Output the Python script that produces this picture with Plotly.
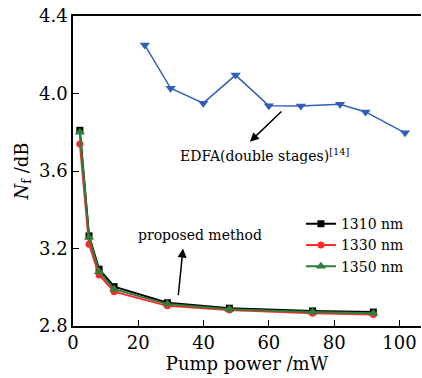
import plotly.graph_objects as go

# Proposed method data
pump_x = [2.1, 4.9, 8.0, 12.6, 28.9, 47.9, 73.4, 92.0]
nf_1310 = [3.81, 3.265, 3.093, 3.003, 2.92, 2.892, 2.878, 2.872]
nf_1330 = [3.74, 3.222, 3.063, 2.977, 2.904, 2.882, 2.866, 2.860]
nf_1350 = [3.80, 3.258, 3.080, 2.990, 2.913, 2.887, 2.872, 2.866]

# EDFA (double stages) [14]
edfa_x = [22.0, 29.9, 39.9, 49.8, 60.0, 69.8, 81.8, 89.6, 101.7]
edfa_nf = [4.25, 4.027, 3.95, 4.095, 3.937, 3.935, 3.945, 3.905, 3.797]

series_names = ["1310 nm", "1330 nm", "1350 nm"]
x_ticks = [0, 20, 40, 60, 80, 100]
y_ticks = [2.8, 3.2, 3.6, 4.0, 4.4]

FONT = "DejaVu Serif"

fig = go.Figure()
fig.add_trace(go.Scatter(x=edfa_x, y=edfa_nf, mode="lines+markers", showlegend=False,
                         line=dict(color="#2f5fb8", width=1.5),
                         marker=dict(symbol="triangle-down", size=9, color="#2f5fb8")))
styles = [("black", "square", 7), ("#ff2a2a", "circle", 7), ("#2e7d3a", "triangle-up", 9)]
for name, ys, (c, sym, sz) in zip(series_names, [nf_1310, nf_1330, nf_1350], styles):
    fig.add_trace(go.Scatter(x=pump_x, y=ys, mode="lines+markers", name=name,
                             line=dict(color=c, width=2),
                             marker=dict(symbol=sym, size=sz, color=c)))

# proposed method arrow (tip near the text)
fig.add_annotation(x=33.7, y=3.20, ax=32.2, ay=2.951, xref="x", yref="y", axref="x", ayref="y",
                   text="", showarrow=True, arrowhead=2, arrowsize=1.2, arrowwidth=1.5, arrowcolor="black")
# EDFA arrow (tip near the text)
fig.add_annotation(x=54.2, y=3.751, ax=64.3, ay=3.915, xref="x", yref="y", axref="x", ayref="y",
                   text="", showarrow=True, arrowhead=2, arrowsize=1.2, arrowwidth=1.5, arrowcolor="black")
fig.add_annotation(x=38.9, y=3.27, xref="x", yref="y", text="proposed method", showarrow=False,
                   font=dict(family=FONT, size=14, color="black"))
fig.add_annotation(x=58.8, y=3.683, xref="x", yref="y", text="EDFA(double stages)<sup>[14]</sup>",
                   showarrow=False, font=dict(family=FONT, size=14, color="black"))

fig.update_layout(
    width=422, height=378,
    margin=dict(l=73, r=1, t=16, b=52),
    paper_bgcolor="white", plot_bgcolor="white",
    font=dict(family=FONT, size=17, color="black"),
    showlegend=True,
    legend=dict(x=0.655, y=0.38, xanchor="left", yanchor="top", bgcolor="rgba(0,0,0,0)",
                font=dict(family=FONT, size=14), tracegroupgap=0),
    xaxis=dict(range=[0, 106.6], tickvals=x_ticks, ticks="inside", ticklen=6, tickcolor="black",
               showline=True, linecolor="black", linewidth=1.5, mirror=True, showgrid=False,
               zeroline=False, title=dict(text="Pump power /mW", standoff=2, font=dict(size=18)),
               tickfont=dict(size=18)),
    yaxis=dict(range=[2.8, 4.4], tickvals=y_ticks, tickformat=".1f", ticks="inside", ticklen=6,
               tickcolor="black", showline=True, linecolor="black", linewidth=1.5, showgrid=False,
               zeroline=False, title=dict(text="<i>N</i><sub>f</sub> /dB", standoff=6, font=dict(size=18)),
               tickfont=dict(size=18)),
)

fig.write_html("out.html", config={"displayModeBar": False},
               post_script="document.body.style.margin='0px';")
